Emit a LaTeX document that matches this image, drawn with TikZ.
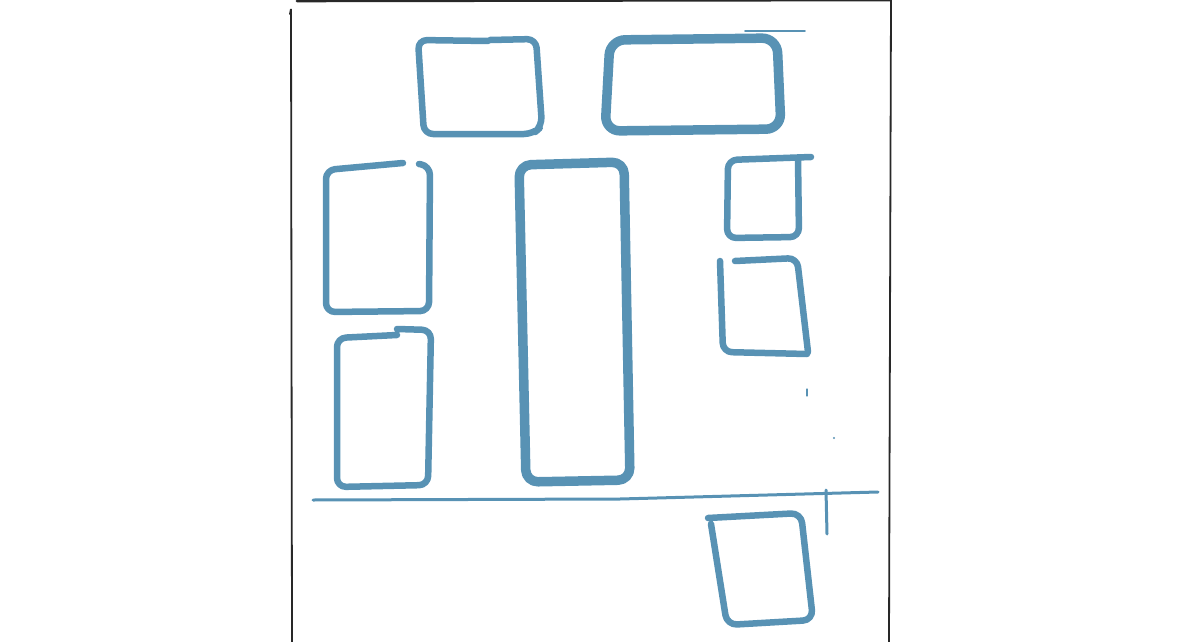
\documentclass[tikz,border=0pt]{standalone}
\usepackage{tikz}
\definecolor{sketchblue}{RGB}{88,146,180}
\definecolor{framegray}{RGB}{40,40,40}

\begin{document}
\begin{tikzpicture}[x=1pt, y=-1pt,
  pen/.style={draw=sketchblue, line width=#1, line cap=round, line join=round, rounded corners=9pt},
  pen/.default=6.5pt,
  thinpen/.style={draw=sketchblue, line width=#1, line cap=round},
  thinpen/.default=3pt,
  frameline/.style={draw=framegray, line width=1.8pt, line cap=round}
]
  \useasboundingbox (0,0) rectangle (1194,642);

  % Page frame
  \draw[frameline] (290,14) -- (291,9) -- (292,642);
  \draw[frameline, line width=2.6pt] (297,1) -- (890,0);
  \draw[frameline] (891,0) -- (889,642);

  % Top row
  \draw[pen] (490,40) -- (536,39) -- (542,126) -- (533,134) -- (424,134) -- (418,40) -- (488,41);
  \draw[pen=9.5pt, rounded corners=15pt] (610,40) -- (777,38) -- (781,129) -- (605,131) -- cycle;
  \draw[thinpen=1.6pt] (745,31) -- (805,31);

  % Left column
  \draw[pen] (403,163) -- (326,170) -- (326,312) -- (429,311) -- (430,166) -- (419,164);
  \draw[pen] (397,335) -- (337,338) -- (337,487) -- (428,485) -- (431,330) -- (397,329);

  % Tall middle box
  \draw[pen=9.5pt, rounded corners=12pt] (519,165) -- (624,162) -- (630,480) -- (526,482) -- cycle;

  % Right column
  \draw[pen] (811,157) -- (728,160) -- (727,238) -- (799,237) -- (798,158);
  \draw[pen] (735,261) -- (797,258) -- (808,352);
  \draw[pen] (807,354) -- (723,352) -- (720,261);
  \draw[thinpen=1.2pt] (807,389) -- (807,396);
  \fill[sketchblue] (834,438) circle (1.2);

  % Base line and box below it
  \draw[thinpen, rounded corners=0pt] (313,500) -- (620,499) -- (878,492);
  \draw[thinpen] (826,490) -- (827,534);
  \draw[pen, rounded corners=10pt] (708,518) -- (801,513) -- (813,620) -- (727,625) -- (711,524);
\end{tikzpicture}
\end{document}
